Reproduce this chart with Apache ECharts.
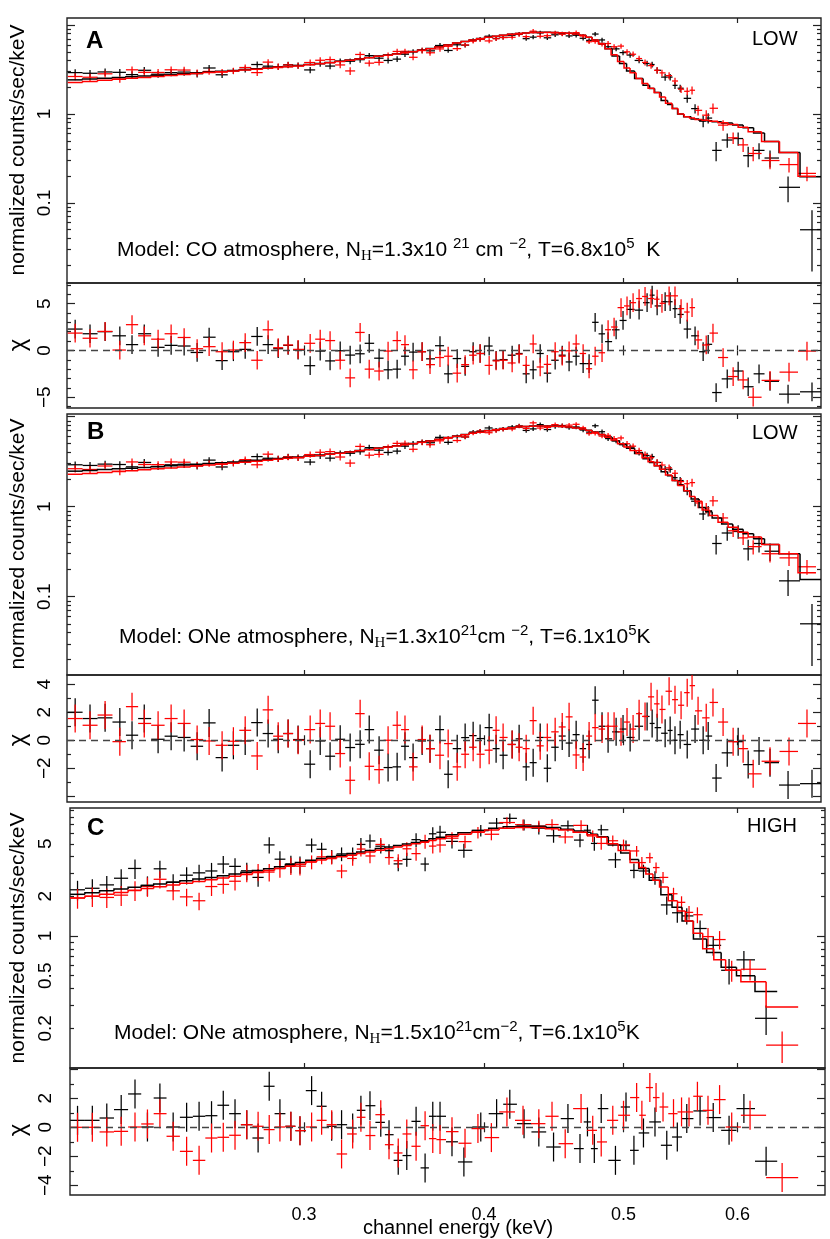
<!DOCTYPE html>
<html><head><meta charset="utf-8">
<script src="https://cdn.jsdelivr.net/npm/echarts@6/dist/echarts.min.js"></script>
<style>html,body{margin:0;padding:0;background:#fff}#c{width:830px;height:1239px}</style>
</head><body><div id="c"></div>
<script>
// ---------------- DATA ----------------
// x tick labels (keV)
const X_TICKS = [0.3, 0.4, 0.5, 0.6];

// LOW spectrum, black data set
const LOW_K_E = [0.2080,0.2130,0.2182,0.2234,0.2278,0.2323,0.2375,0.2425,0.2476,0.2528,0.2577,0.2631,0.2679,0.2730,0.2783,0.2832,0.2878,0.2924,0.2971,0.3029,0.3078,0.3127,0.3178,0.3229,0.3281,0.3329,0.3382,0.3431,0.3481,0.3525,0.3571,0.3623,0.3669,0.3728,0.3777,0.3832,0.3881,0.3931,0.3975,0.4033,0.4078,0.4124,0.4184,0.4231,0.4279,0.4327,0.4376,0.4426,0.4482,0.4533,0.4583,0.4635,0.4687,0.4732,0.4778,0.4831,0.4878,0.4941,0.4996,0.5053,0.5126,0.5192,0.5234,0.5276,0.5344,0.5387,0.5429,0.5474,0.5536,0.5606,0.5679,0.5725,0.5798,0.5902,0.6006,0.6103,0.6210,0.6320,0.6505,0.6759];
const LOW_K_Y = [2.92,2.87,2.97,2.94,2.77,3.10,2.80,2.92,2.96,2.84,3.29,2.76,3.05,3.18,3.60,3.45,3.41,3.58,3.51,3.13,3.68,3.46,3.91,3.92,4.08,4.53,4.24,4.00,4.14,4.70,4.99,5.20,5.13,5.89,5.18,6.0,5.94,6.75,6.92,7.49,7.07,7.28,7.68,7.9,7.03,7.31,8.15,7.19,7.77,7.97,7.55,7.68,7.1,6.73,7.92,6.8,5.7,5.4,4.9,4.6,4.0,3.7,3.6,3.1,2.6,2.6,2.1,1.95,1.5,1.15,0.83,0.9,0.39,0.51,0.53,0.34,0.39,0.32,0.15,0.05];
const LOW_K_ERR = [0.26,0.26,0.27,0.26,0.25,0.28,0.25,0.26,0.27,0.26,0.26,0.22,0.24,0.25,0.29,0.28,0.27,0.29,0.28,0.25,0.29,0.28,0.31,0.30,0.31,0.33,0.31,0.30,0.31,0.34,0.36,0.37,0.37,0.40,0.30,0.33,0.33,0.37,0.38,0.41,0.39,0.40,0.42,0.43,0.39,0.40,0.45,0.40,0.43,0.44,0.42,0.42,0.39,0.37,0.44,0.38,0.33,0.33,0.31,0.30,0.29,0.28,0.27,0.25,0.23,0.22,0.19,0.18,0.16,0.14,0.12,0.12,0.095,0.092,0.09,0.088,0.08,0.07,0.048,0.033];
const LOW_K_MODEL_A = [2.42,2.47,2.52,2.58,2.62,2.67,2.72,2.78,2.84,2.90,2.96,3.02,3.08,3.15,3.22,3.29,3.36,3.43,3.50,3.60,3.70,3.80,3.92,4.05,4.18,4.32,4.48,4.62,4.76,4.90,5.05,5.25,5.45,5.70,6.0,6.3,6.55,6.8,7.05,7.3,7.5,7.7,7.9,8.05,8.15,8.25,8.3,8.3,8.25,8.2,8.1,7.95,7.7,7.3,6.8,6.2,5.4,4.5,3.7,3.05,2.5,2.1,1.93,1.75,1.42,1.28,1.15,1.0,0.93,0.88,0.85,0.84,0.82,0.79,0.75,0.70,0.61,0.49,0.37,0.197];
const LOW_K_MODEL_B = [2.48,2.53,2.58,2.63,2.68,2.73,2.78,2.84,2.90,2.96,3.02,3.08,3.14,3.21,3.28,3.35,3.42,3.49,3.56,3.65,3.74,3.84,3.95,4.07,4.20,4.33,4.48,4.62,4.76,4.90,5.04,5.22,5.40,5.62,5.85,6.08,6.32,6.55,6.75,7.0,7.2,7.38,7.55,7.68,7.78,7.85,7.88,7.88,7.85,7.78,7.68,7.52,7.3,7.05,6.75,6.35,5.95,5.4,4.9,4.45,3.9,3.4,3.1,2.85,2.45,2.2,1.95,1.75,1.5,1.22,0.98,0.88,0.75,0.64,0.56,0.50,0.44,0.38,0.30,0.155];
const LOW_K_CHI_A = [2.28,1.78,2.0,1.56,0.62,1.78,0.33,0.54,0.47,-0.22,1.41,-1.09,-0.14,0.11,1.49,0.62,0.18,0.54,0.04,-1.63,-0.07,-1.12,-0.04,-0.5,-0.36,0.76,-0.83,-2.07,-2.0,-0.62,-0.18,-0.14,-0.9,0.5,-2.5,-0.87,-1.7,-0.14,-0.33,0.47,-1.05,-0.98,-0.51,-0.33,-2.5,-2.07,-0.33,-2.43,-1.05,-0.51,-1.23,-0.62,-1.41,-1.41,3.0,1.77,0.94,2.2,3.2,4.38,4.3,5.1,5.9,4.75,5.2,5.2,4.46,3.84,2.28,1.56,-0.14,0.65,-4.5,-3.04,-2.2,-3.88,-2.5,-3.3,-4.67,-4.42];
const LOW_K_CHI_B = [2.0,1.55,1.6,1.3,0.36,1.55,0.07,0.29,0.2,-0.43,1.24,-1.24,-0.36,-0.05,1.26,0.48,0.07,0.48,0.05,-1.71,-0.05,-1.14,0.07,-0.52,-0.29,0.76,-0.71,-1.95,-1.9,-0.43,-1.24,-0.05,-0.6,0.76,-2.43,-0.6,0.19,0.33,0.12,0.9,-0.6,-1.07,-0.3,0.1,-1.9,-1.6,0.2,-2.0,-0.5,0.3,-0.2,0.4,-0.6,-0.3,2.86,1.0,0.1,0.6,0.8,0.2,1.0,1.7,1.2,0.9,0.5,0.7,0.0,0.4,-0.3,0.8,0.0,0.3,-2.7,-0.9,-0.1,-1.74,-0.76,-1.6,-3.2,-3.1];

// LOW spectrum, red data set
const LOW_R_E = [0.2080,0.2130,0.2182,0.2234,0.2278,0.2323,0.2375,0.2425,0.2476,0.2528,0.2577,0.2631,0.2679,0.2730,0.2783,0.2832,0.2878,0.2924,0.2971,0.3029,0.3078,0.3127,0.3178,0.3229,0.3281,0.3329,0.3382,0.3431,0.3481,0.3525,0.3571,0.3623,0.3669,0.3728,0.3777,0.3832,0.3881,0.3931,0.3975,0.4033,0.4078,0.4124,0.4184,0.4231,0.4279,0.4327,0.4376,0.4426,0.4482,0.4533,0.4583,0.4635,0.4687,0.4732,0.4778,0.4831,0.4878,0.4925,0.4980,0.5028,0.5077,0.5126,0.5175,0.5225,0.5276,0.5317,0.5378,0.5429,0.5482,0.5536,0.5579,0.5633,0.5707,0.5769,0.5863,0.5958,0.6054,0.6152,0.6320,0.6515,0.6705];
const LOW_R_Y = [2.64,2.59,2.83,2.47,3.14,2.94,2.93,3.14,3.12,2.90,3.01,2.96,3.06,3.33,2.92,3.83,3.41,3.56,3.50,3.79,4.02,4.09,3.56,3.05,4.67,3.73,3.81,4.57,5.05,5.07,4.34,5.17,4.88,5.39,5.77,5.43,5.97,6.58,6.89,6.63,7.01,7.23,7.29,7.84,7.41,8.53,7.47,7.59,8.15,7.89,8.05,8.22,7.53,6.49,6.54,6.08,6.2,5.7,5.8,5.0,4.7,4.2,3.8,3.5,3.1,2.9,2.7,2.35,1.9,1.8,1.85,1.1,0.97,1.16,0.75,0.54,0.45,0.36,0.30,0.27,0.215];
const LOW_R_ERR = [0.24,0.24,0.26,0.23,0.28,0.27,0.27,0.28,0.28,0.26,0.24,0.24,0.25,0.27,0.24,0.30,0.28,0.29,0.28,0.30,0.32,0.33,0.30,0.30,0.35,0.30,0.30,0.33,0.35,0.36,0.32,0.37,0.36,0.38,0.32,0.31,0.33,0.36,0.38,0.37,0.39,0.40,0.40,0.43,0.41,0.47,0.41,0.42,0.45,0.43,0.44,0.45,0.41,0.36,0.36,0.34,0.4,0.38,0.38,0.35,0.33,0.31,0.3,0.28,0.26,0.25,0.24,0.21,0.18,0.18,0.19,0.14,0.13,0.15,0.1,0.08,0.075,0.065,0.06,0.05,0.04];
const LOW_R_MODEL_A = [2.26,2.32,2.39,2.46,2.52,2.58,2.64,2.71,2.78,2.85,2.92,2.99,3.05,3.12,3.19,3.26,3.33,3.40,3.47,3.57,3.67,3.77,3.89,4.02,4.15,4.29,4.45,4.59,4.73,4.87,5.02,5.22,5.42,5.67,5.97,6.27,6.52,6.77,7.02,7.27,7.47,7.67,7.87,8.02,8.12,8.22,8.27,8.27,8.22,8.17,8.07,7.92,7.67,7.27,6.77,6.17,5.4,4.65,3.9,3.3,2.9,2.5,2.2,1.95,1.75,1.55,1.32,1.15,1.0,0.93,0.9,0.87,0.85,0.83,0.80,0.76,0.71,0.63,0.49,0.37,0.2];
const LOW_R_MODEL_B = [2.29,2.34,2.40,2.46,2.51,2.57,2.63,2.69,2.76,2.83,2.90,2.97,3.04,3.12,3.20,3.28,3.36,3.44,3.52,3.62,3.71,3.81,3.92,4.04,4.17,4.30,4.45,4.59,4.73,4.87,5.01,5.19,5.37,5.59,5.82,6.05,6.29,6.52,6.72,6.97,7.17,7.35,7.52,7.65,7.75,7.82,7.85,7.85,7.82,7.75,7.65,7.49,7.27,7.02,6.72,6.32,5.92,5.5,5.0,4.6,4.2,3.9,3.5,3.15,2.85,2.6,2.25,1.95,1.72,1.5,1.3,1.15,0.92,0.8,0.67,0.59,0.52,0.46,0.38,0.30,0.185];
const LOW_R_CHI_A = [1.85,1.30,2.03,0.04,2.75,1.56,1.2,1.78,1.38,0.18,0.4,-0.14,0.04,0.83,-1.05,2.2,0.29,0.58,0.11,0.76,1.2,1.05,-1.05,-2.93,1.92,-2.0,-2.2,-0.07,1.05,0.62,-2.07,-0.14,-1.52,-0.76,-0.62,-2.43,-1.52,-0.51,-0.33,-1.6,-1.12,-1.05,-1.34,-0.4,-1.6,0.69,-1.77,-1.49,-0.14,-0.62,-0.04,0.69,-0.33,-1.96,-0.62,-0.25,2.21,2.5,4.57,4.75,5.1,5.54,5.76,5.54,5.47,5.03,5.83,5.83,4.46,4.1,4.57,1.12,0.58,1.85,-0.76,-2.79,-3.15,-5.0,-3.2,-2.32,-0.07];
const LOW_R_CHI_B = [1.55,1.07,1.8,-0.1,2.4,1.2,1.07,1.55,1.2,0.05,-0.05,-0.36,-0.07,0.71,-1.12,2.17,0.29,0.48,0.0,0.76,1.2,1.0,-0.95,-2.86,1.9,-1.86,-2.1,0.0,1.07,0.76,-1.9,0.05,-0.6,-1.07,-0.24,-1.9,-1.0,-0.5,-1.0,-0.71,0.71,0.2,-0.3,-0.5,-0.6,1.4,-0.4,0.2,0.6,0.95,1.67,-1.05,-1.2,0.3,0.9,0.8,1.0,1.0,0.6,1.3,0.8,1.9,1.7,3.1,2.6,2.2,3.5,2.9,2.5,3.4,3.9,2.1,1.6,2.7,1.3,-0.1,-0.6,-2.4,-1.5,-0.8,1.2];

// HIGH spectrum, black data set
const HIGH_K_E = [0.2089,0.2139,0.2189,0.2240,0.2290,0.2336,0.2383,0.2434,0.2487,0.2537,0.2588,0.2637,0.2687,0.2738,0.2788,0.2838,0.2887,0.2938,0.2981,0.3037,0.3086,0.3136,0.3186,0.3243,0.3286,0.3334,0.3392,0.3437,0.3488,0.3536,0.3589,0.3641,0.3686,0.3729,0.3801,0.3874,0.3980,0.4082,0.4169,0.4265,0.4367,0.4471,0.4575,0.4664,0.4720,0.4772,0.4825,0.4936,0.5020,0.5084,0.5162,0.5258,0.5358,0.5449,0.5532,0.5651,0.5771,0.5919,0.6061,0.6280];
const HIGH_K_Y = [2.24,2.30,2.44,2.74,3.25,2.42,3.23,2.56,2.89,3.01,3.11,3.51,3.37,3.12,2.78,4.9,3.82,3.52,3.48,4.89,4.54,4.01,4.19,4.19,4.94,5.25,4.79,4.43,3.52,3.81,5.37,3.51,5.95,6.11,5.21,4.46,6.31,7.17,7.79,6.97,6.56,5.75,6.84,5.33,6.33,5.03,6.38,3.78,4.85,3.14,3.11,2.77,1.72,1.5,1.42,1.14,0.85,0.55,0.66,0.238];
const HIGH_K_ERR = [0.38,0.39,0.41,0.47,0.55,0.41,0.48,0.38,0.43,0.45,0.47,0.53,0.51,0.47,0.42,0.69,0.57,0.53,0.52,0.59,0.54,0.48,0.5,0.5,0.59,0.63,0.57,0.53,0.42,0.46,0.64,0.42,0.71,0.73,0.6,0.55,0.63,0.67,0.7,0.68,0.68,0.66,0.66,0.63,0.62,0.6,0.58,0.5,0.45,0.4,0.36,0.32,0.27,0.24,0.2,0.17,0.14,0.12,0.11,0.06];
const HIGH_K_MODEL = [2.07,2.13,2.2,2.27,2.34,2.41,2.48,2.55,2.62,2.7,2.78,2.86,2.95,3.04,3.13,3.23,3.35,3.48,3.6,3.75,3.87,3.98,4.1,4.22,4.33,4.45,4.6,4.72,4.85,4.98,5.12,5.28,5.45,5.6,5.85,6.05,6.3,6.55,6.72,6.8,6.78,6.65,6.45,6.25,6.1,5.9,5.65,4.9,4.25,3.8,3.25,2.65,2.05,1.65,1.3,0.95,0.75,0.58,0.5,0.38];
const HIGH_K_CHI = [0.48,0.48,0.64,1.22,2.3,0.02,2.02,0.02,0.69,0.76,0.8,1.52,0.94,0.18,-0.74,2.83,0.94,0.07,-0.23,2.53,1.45,0.07,0.18,-0.05,1.17,1.49,0.34,-0.51,-2.28,-1.95,0.41,-2.8,0.76,0.76,-1.0,-2.39,0.02,0.94,1.59,0.25,-0.32,-1.36,0.6,-1.47,0.37,-1.47,1.29,-2.28,1.4,-1.59,-0.39,0.37,-1.24,-0.67,0.6,1.13,0.67,-0.21,1.29,-2.34];

// HIGH spectrum, red data set
const HIGH_R_E = [0.2089,0.2139,0.2189,0.2240,0.2290,0.2336,0.2383,0.2434,0.2487,0.2537,0.2588,0.2637,0.2687,0.2738,0.2788,0.2838,0.2887,0.2938,0.2981,0.3037,0.3086,0.3136,0.3186,0.3243,0.3286,0.3334,0.3392,0.3437,0.3488,0.3536,0.3589,0.3641,0.3686,0.3729,0.3801,0.3881,0.3962,0.4048,0.4150,0.4258,0.4367,0.4460,0.4555,0.4672,0.4760,0.4825,0.4915,0.5000,0.5106,0.5149,0.5215,0.5267,0.5326,0.5416,0.5486,0.5552,0.5627,0.5723,0.5830,0.5944,0.6121,0.6443];
const HIGH_R_Y = [1.94,2.0,1.96,2.04,2.22,2.38,2.69,2.2,1.98,1.85,2.37,2.46,2.6,3.01,3.06,3.05,3.25,3.41,3.38,3.64,3.98,3.96,3.11,3.87,4.56,4.04,4.94,3.93,3.72,4.58,4.21,5.21,4.8,4.89,5.51,5.19,6.1,5.9,7.24,6.97,6.8,6.99,5.63,6.89,5.73,5.03,5.27,4.9,4.41,3.6,3.92,3.3,2.78,2.09,1.8,1.51,1.45,0.99,0.94,0.55,0.56,0.149];
const HIGH_R_ERR = [0.33,0.34,0.33,0.35,0.38,0.4,0.4,0.33,0.3,0.28,0.36,0.37,0.39,0.45,0.46,0.46,0.49,0.51,0.51,0.44,0.48,0.48,0.37,0.46,0.55,0.48,0.59,0.47,0.45,0.55,0.5,0.63,0.58,0.59,0.6,0.57,0.61,0.59,0.7,0.68,0.67,0.68,0.6,0.66,0.58,0.53,0.5,0.48,0.4,0.36,0.35,0.31,0.27,0.23,0.2,0.18,0.2,0.16,0.15,0.1,0.1,0.04];
const HIGH_R_MODEL = [1.94,2.0,2.07,2.14,2.21,2.29,2.36,2.43,2.51,2.59,2.67,2.75,2.84,2.93,3.03,3.13,3.25,3.38,3.5,3.64,3.76,3.87,3.99,4.1,4.21,4.33,4.47,4.59,4.72,4.85,4.99,5.14,5.3,5.45,5.7,5.9,6.15,6.35,6.55,6.65,6.63,6.5,6.35,6.1,5.85,5.6,5.0,4.45,3.6,3.3,2.95,2.65,2.35,1.85,1.55,1.3,1.05,0.8,0.66,0.55,0.45,0.29];
const HIGH_R_CHI = [0.0,0.0,-0.32,-0.28,0.02,0.23,0.94,-0.62,-1.66,-2.28,-0.74,-0.69,-0.55,0.18,0.07,-0.16,0.02,0.07,-0.23,0.02,0.48,0.18,-1.84,-0.46,0.69,-0.57,0.87,-1.2,-1.77,-0.46,-1.31,0.11,-0.78,-0.85,-0.3,-1.1,-0.09,-0.71,1.06,0.48,0.25,0.76,-1.13,1.29,-0.21,-1.01,0.48,0.83,2.05,0.83,2.74,2.05,1.4,0.94,1.06,1.06,2.14,1.17,1.91,0.02,0.83,-3.47];

// y-axis tick labels
const A_SPEC_LABELS = [0.1, 1];
const C_SPEC_LABELS = [0.2, 0.5, 1, 2, 5];
const A_RES_LABELS = [-5, 0, 5];
const B_RES_LABELS = [-2, 0, 2, 4];
const C_RES_LABELS = [-4, -2, 0, 2];

// ---------------- BUILD ----------------
const FONT = "'Liberation Sans', Arial, Helvetica, sans-serif";
const BLACK = '#000000', RED = '#ff0000', FRAME = '#222222';

function edges(E) {
  const n = E.length, lo = [], hi = [];
  for (let i = 0; i < n; i++) {
    lo.push(i > 0 ? Math.sqrt(E[i - 1] * E[i]) : E[0] * E[0] / Math.sqrt(E[0] * E[1]));
    hi.push(i < n - 1 ? Math.sqrt(E[i] * E[i + 1]) : E[n - 1] * E[n - 1] / Math.sqrt(E[n - 2] * E[n - 1]));
  }
  return { lo, hi };
}
function crossRows(E, Y, S) { const b = edges(E); return E.map((e, i) => [e, Y[i], b.lo[i], b.hi[i], Math.max(Y[i] - S[i], 1e-4), Y[i] + S[i]]); }
function resRows(E, C) { const b = edges(E); return E.map((e, i) => [e, C[i], b.lo[i], b.hi[i], C[i] - 1, C[i] + 1]); }
function stepRows(E, M) { const b = edges(E); return E.map((e, i) => [e, M[i], b.lo[i], b.hi[i], i > 0 ? M[i - 1] : M[i]]); }

function crossRender(color) {
  return function (params, api) {
    const x = api.value(0), y = api.value(1);
    const a = api.coord([api.value(2), y]), b = api.coord([api.value(3), y]);
    const c = api.coord([x, api.value(4)]), d = api.coord([x, api.value(5)]);
    const st = { stroke: color, lineWidth: 1.25 };
    return { type: 'group', children: [
      { type: 'line', shape: { x1: a[0], y1: a[1], x2: b[0], y2: b[1] }, style: st },
      { type: 'line', shape: { x1: c[0], y1: c[1], x2: d[0], y2: d[1] }, style: st }
    ] };
  };
}
function stepRender(color) {
  return function (params, api) {
    const m = api.value(1), lo = api.value(2), hi = api.value(3), mp = api.value(4);
    const p0 = api.coord([lo, mp]), p1 = api.coord([lo, m]), p2 = api.coord([hi, m]);
    return { type: 'polyline', shape: { points: [p0, p1, p2] }, style: { stroke: color, lineWidth: 1.5, fill: null } };
  };
}

const fmt = v => { const s = String(Math.round(v * 1000) / 1000); return s.replace('-', '\u2212'); };

function logMinor(min, max) {
  const out = [];
  for (let e = -3; e <= 2; e++) for (let k = 2; k <= 9; k++) { const v = +(k * Math.pow(10, e)).toPrecision(3); if (v > min && v < max) out.push(v); }
  return out;
}
function range(a, b) { const o = []; for (let i = a; i <= b; i++) o.push(i); return o; }

const GRIDS = [
  { left: 67, right: 9, top: 18, height: 265 },
  { left: 67, right: 9, top: 283, height: 125 },
  { left: 67, right: 9, top: 414, height: 261 },
  { left: 67, right: 9, top: 675, height: 127 },
  { left: 70, right: 5, top: 808, height: 260 },
  { left: 70, right: 5, top: 1068, height: 127 }
];
const XR = [[0.2053, 0.6857], [0.2053, 0.6857], [0.2053, 0.6857], [0.2053, 0.6857], [0.2064, 0.6900], [0.2064, 0.6900]];
const YCFG = [
  { type: 'log', min: 0.0126, max: 12.0, major: [0.1, 1, 10], minor: logMinor(0.0126, 12), labels: A_SPEC_LABELS, margin: 13 },
  { type: 'value', min: -6.15, max: 7.2, major: [-5, 0, 5], minor: range(-6, 7).filter(v => v % 5 !== 0), labels: A_RES_LABELS, margin: 13 },
  { type: 'log', min: 0.0135, max: 10.7, major: [0.1, 1, 10], minor: logMinor(0.0135, 10.7), labels: A_SPEC_LABELS, margin: 13 },
  { type: 'value', min: -4.41, max: 4.66, major: [-4, -2, 0, 2, 4], minor: [-3, -1, 1, 3], labels: B_RES_LABELS, margin: 13 },
  { type: 'log', min: 0.1, max: 9.33, major: [1], minor: logMinor(0.1, 9.33), labels: C_SPEC_LABELS, margin: 15 },
  { type: 'value', min: -4.67, max: 4.09, major: [-4, -2, 0, 2, 4], minor: [-3, -1, 1, 3], labels: C_RES_LABELS, margin: 15 }
];

const tickLine = { color: FRAME, width: 1.2 };
const xAxes = [], yAxes = [];
GRIDS.forEach((g, gi) => {
  ['bottom', 'top'].forEach(pos => {
    const lab = gi === 5 && pos === 'bottom';
    xAxes.push({
      gridIndex: gi, type: 'log', logBase: 10, min: XR[gi][0], max: XR[gi][1], position: pos,
      axisLine: { show: false }, splitLine: { show: false },
      axisTick: { show: true, inside: true, length: 5, customValues: X_TICKS, lineStyle: tickLine },
      axisLabel: lab ? { show: true, customValues: X_TICKS, margin: 11, fontSize: 18, color: '#000', fontFamily: FONT, formatter: fmt } : { show: false }
    });
  });
  const c = YCFG[gi];
  ['left', 'right'].forEach(pos => {
    [true, false].forEach(isMajor => {
      const showLab = pos === 'left' && isMajor;
      yAxes.push({
        gridIndex: gi, type: c.type, logBase: 10, min: c.min, max: c.max, position: pos,
        axisLine: { show: false }, splitLine: { show: false },
        axisTick: { show: true, inside: true, length: isMajor ? 8 : 4, customValues: isMajor ? c.major : c.minor, lineStyle: tickLine },
        axisLabel: showLab ? { show: true, customValues: c.labels, rotate: 90, margin: c.margin, fontSize: 19, color: '#000', fontFamily: FONT, formatter: fmt } : { show: false }
      });
    });
  });
});

function crossSeries(gi, rows, color) {
  return { type: 'custom', xAxisIndex: gi * 2, yAxisIndex: gi * 4, clip: true, renderItem: crossRender(color), data: rows, encode: { x: 0, y: 1 }, z: 3 };
}
function stepSeries(gi, rows, color) {
  return { type: 'custom', xAxisIndex: gi * 2, yAxisIndex: gi * 4, clip: true, renderItem: stepRender(color), data: rows, encode: { x: 0, y: 1 }, z: 4 };
}
function zeroLine(s) {
  s.markLine = { silent: true, symbol: 'none', label: { show: false }, data: [{ yAxis: 0 }], lineStyle: { type: [7, 5], color: '#444', width: 1.3 } };
  return s;
}

const series = [
  // A spectrum
  crossSeries(0, crossRows(LOW_K_E, LOW_K_Y, LOW_K_ERR), BLACK),
  crossSeries(0, crossRows(LOW_R_E, LOW_R_Y, LOW_R_ERR), RED),
  stepSeries(0, stepRows(LOW_K_E, LOW_K_MODEL_A), BLACK),
  stepSeries(0, stepRows(LOW_R_E, LOW_R_MODEL_A), RED),
  // A residuals
  zeroLine(crossSeries(1, resRows(LOW_K_E, LOW_K_CHI_A), BLACK)),
  crossSeries(1, resRows(LOW_R_E, LOW_R_CHI_A), RED),
  // B spectrum
  crossSeries(2, crossRows(LOW_K_E, LOW_K_Y, LOW_K_ERR), BLACK),
  crossSeries(2, crossRows(LOW_R_E, LOW_R_Y, LOW_R_ERR), RED),
  stepSeries(2, stepRows(LOW_K_E, LOW_K_MODEL_B), BLACK),
  stepSeries(2, stepRows(LOW_R_E, LOW_R_MODEL_B), RED),
  // B residuals
  zeroLine(crossSeries(3, resRows(LOW_K_E, LOW_K_CHI_B), BLACK)),
  crossSeries(3, resRows(LOW_R_E, LOW_R_CHI_B), RED),
  // C spectrum
  crossSeries(4, crossRows(HIGH_K_E, HIGH_K_Y, HIGH_K_ERR), BLACK),
  crossSeries(4, crossRows(HIGH_R_E, HIGH_R_Y, HIGH_R_ERR), RED),
  stepSeries(4, stepRows(HIGH_K_E, HIGH_K_MODEL), BLACK),
  stepSeries(4, stepRows(HIGH_R_E, HIGH_R_MODEL), RED),
  // C residuals
  zeroLine(crossSeries(5, resRows(HIGH_K_E, HIGH_K_CHI), BLACK)),
  crossSeries(5, resRows(HIGH_R_E, HIGH_R_CHI), RED)
];

// ---- text ----
const RICH = {
  a: { fontSize: 21, fontFamily: FONT, color: '#000', lineHeight: 28 },
  sub: { fontSize: 15, fontFamily: "'Liberation Serif', 'DejaVu Serif', serif", color: '#000', lineHeight: 15, verticalAlign: 'bottom' },
  sup: { fontSize: 15, fontFamily: FONT, color: '#000', lineHeight: 15, verticalAlign: 'top' }
};
function note(x, y, txt) {
  return { type: 'text', left: x, top: y - 14, z: 10, style: { text: txt, rich: RICH } };
}
function label(x, y, txt, size, bold) {
  return { type: 'text', x: x, y: y, z: 10, style: { text: txt, font: (bold ? 'bold ' : '') + size + 'px ' + FONT, fill: '#000', textAlign: 'left', textVerticalAlign: 'middle' } };
}
function vtext(x, y, txt, size) {
  return { type: 'text', x: x, y: y, rotation: Math.PI / 2, z: 10, style: { text: txt, font: size + 'px ' + FONT, fill: '#000', textAlign: 'center', textVerticalAlign: 'middle' } };
}
const graphic = [
  label(86, 41, 'A', 24, true), label(87, 432, 'B', 24, true), label(87, 828, 'C', 24, true),
  label(752, 39, 'LOW', 20), label(752, 433, 'LOW', 20), label(747, 826, 'HIGH', 20),
  note(117, 250, '{a|Model: CO atmosphere, N}{sub|H}{a|=1.3x10 }{sup|21}{a| cm }{sup|\u22122}{a|, T=6.8x10}{sup|5}{a|  K}'),
  note(119, 637, '{a|Model: ONe atmosphere, N}{sub|H}{a|=1.3x10}{sup|21}{a|cm }{sup|\u22122}{a|, T=6.1x10}{sup|5}{a|K}'),
  note(114, 1033, '{a|Model: ONe atmosphere, N}{sub|H}{a|=1.5x10}{sup|21}{a|cm}{sup|\u22122}{a|, T=6.1x10}{sup|5}{a|K}'),
  vtext(18, 150, 'normalized counts/sec/keV', 21),
  vtext(18, 544, 'normalized counts/sec/keV', 21),
  vtext(18, 938, 'normalized counts/sec/keV', 21),
  vtext(18, 345, '\u03c7', 24), vtext(18, 740, '\u03c7', 24), vtext(18, 1130, '\u03c7', 24),
  { type: 'text', x: 458, y: 1228, z: 10, style: { text: 'channel energy (keV)', font: '20px ' + FONT, fill: '#000', textAlign: 'center', textVerticalAlign: 'middle' } }
];

const chart = echarts.init(document.getElementById('c'), null, { renderer: 'canvas' });
chart.setOption({
  animation: false,
  backgroundColor: '#fff',
  grid: GRIDS.map(g => Object.assign({ show: true, borderColor: FRAME, borderWidth: 1.4, backgroundColor: 'transparent', containLabel: false }, g)),
  xAxis: xAxes,
  yAxis: yAxes,
  series: series,
  graphic: graphic
});
</script>
</body></html>
